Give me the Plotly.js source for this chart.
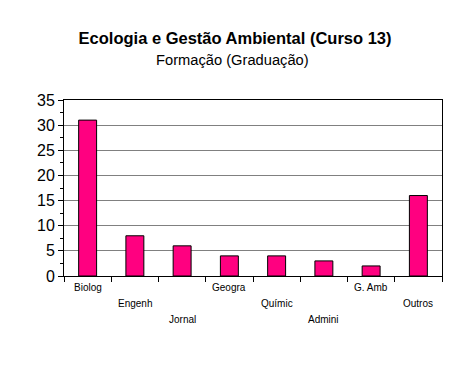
<!DOCTYPE html>
<html><head><meta charset="utf-8">
<script src="https://cdn.plot.ly/plotly-3.0.1.min.js"></script>
<style>html,body{margin:0;padding:0;background:#fff}</style>
</head><body><div id="chart" style="width:472px;height:371px"></div>
<script>
const categories = ["Biolog","Engenh","Jornal","Geogra","Químic","Admini","G. Amb","Outros"];
const values = [31, 8, 6, 4, 4, 3, 2, 16];
const yTicks = [0,5,10,15,20,25,30,35];
const titleText = "Ecologia e Gestão Ambiental (Curso 13)";
const subtitleText = "Formação (Graduação)";

const xs = categories.map((c,i)=>i);
const boundaries = categories.map((c,i)=>i-0.5).concat([categories.length-0.5]);
const levels = [-11,-27,-43];
const annotations = categories.map((c,i)=>({
  x: i, y: 0, xref: 'x', yref: 'paper', text: c, showarrow: false,
  yshift: levels[i%3], yanchor: 'middle', xanchor: 'center',
  font: {family: 'Arial, Liberation Sans', size: 10, color: '#000'}
}));
annotations.push({
  x: 0.447, y: 1, xref: 'paper', yref: 'paper', text: subtitleText, showarrow: false,
  yshift: 40, yanchor: 'middle', xanchor: 'center',
  font: {family: 'Arial, Liberation Sans', size: 14.7, color: '#000'}
});

Plotly.newPlot('chart', [{
  type: 'bar', x: xs, y: values,
  marker: {color: '#FF0080', line: {color: '#000', width: 1}},
  width: 0.38, hoverinfo: 'none'
}], {
  width: 472, height: 371,
  margin: {l: 64, r: 30, t: 100, b: 95},
  paper_bgcolor: '#fff', plot_bgcolor: '#fff',
  title: {
    text: '<b>' + titleText + '</b>',
    font: {family: 'Arial, Liberation Sans', size: 16.5, color: '#000'},
    x: 0.498, xref: 'container', xanchor: 'center',
    y: 0.898, yref: 'container', yanchor: 'middle'
  },
  xaxis: {
    range: [-0.5, categories.length-0.5], tickvals: boundaries, showticklabels: false,
    ticks: 'outside', ticklen: 5, tickcolor: '#000', tickwidth: 1,
    showgrid: false, zeroline: false, showline: true, linecolor: '#000', linewidth: 1, mirror: true,
    fixedrange: true
  },
  yaxis: {
    range: [0, 35], tickvals: yTicks, ticks: 'outside', ticklen: 5, tickcolor: '#000',
    tickfont: {family: 'Arial, Liberation Sans', size: 16, color: '#000'},
    showgrid: true, gridcolor: '#808080', gridwidth: 1, zeroline: false,
    showline: true, linecolor: '#000', linewidth: 1, mirror: true,
    minor: {dtick: 2.5, ticks: 'outside', ticklen: 3, tickcolor: '#000', showgrid: false},
    fixedrange: true
  },
  annotations: annotations,
  showlegend: false
}, {displayModeBar: false, staticPlot: true});
</script></body></html>
